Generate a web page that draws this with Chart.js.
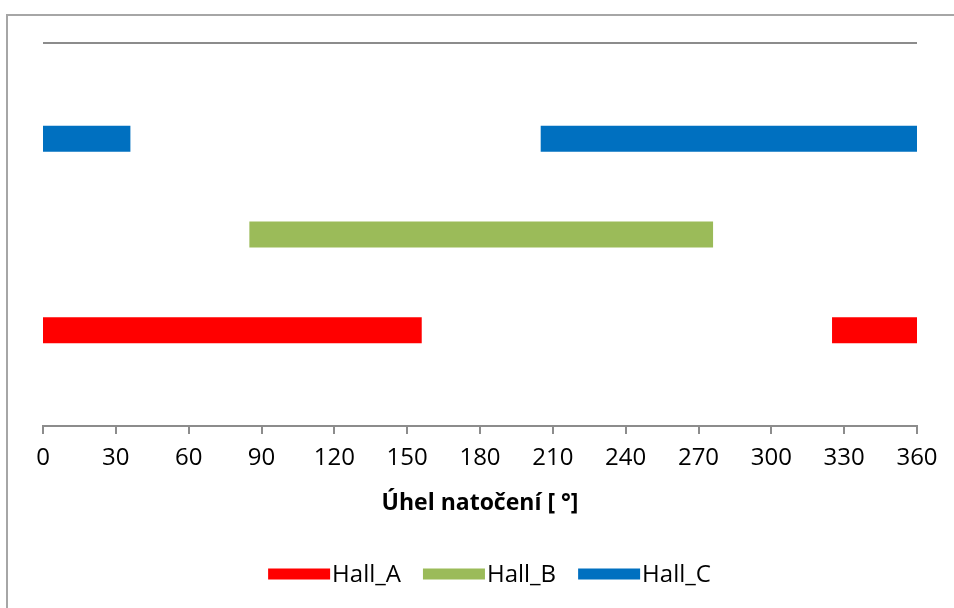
<!DOCTYPE html>
<html>
<head>
<meta charset="utf-8">
<script src="https://cdn.jsdelivr.net/npm/chart.js@4/dist/chart.umd.min.js"></script>
<style>
html,body{margin:0;padding:0;background:#fff;}
#wrap{position:absolute;left:0;top:0;width:954px;height:608px;}
</style>
</head>
<body>
<div id="wrap"><canvas id="c" width="954" height="608"></canvas></div>
<script>
// Data (angles in degrees, where each Hall signal is active)
const seriesNames = ["Hall_A", "Hall_B", "Hall_C"];
const seriesLevels = [1, 2, 3];
const hallA = [[0, 156], [325, 360]];
const hallB = [[85, 276]];
const hallC = [[0, 36], [205, 360]];
const xTicksMin = 0, xTicksMax = 360, xTickStep = 30;
const xTitle = "Úhel natočení [ °]";
const colors = ["#FF0000", "#9BBB59", "#0070C0"];

const FONT = "'Open Sans', 'Noto Sans', sans-serif";

function toPoints(segs, level) {
  const pts = [];
  segs.forEach(s => { pts.push({x: s[0], y: level}); pts.push({x: s[1], y: level}); });
  return pts;
}
const segsAll = [hallA, hallB, hallC];
const datasets = segsAll.map((segs, i) => ({
  label: seriesNames[i],
  data: toPoints(segs, seriesLevels[i]),
  borderColor: colors[i],
  backgroundColor: colors[i],
  borderWidth: 26,
  borderCapStyle: 'butt',
  pointRadius: 0,
  pointHoverRadius: 0,
  fill: false,
  tension: 0,
  segment: {
    borderColor: ctx => (ctx.p0DataIndex % 2 === 1) ? 'rgba(0,0,0,0)' : undefined
  }
}));

const framePlugin = {
  id: 'frame',
  beforeDraw(chart) {
    const ctx = chart.ctx;
    ctx.save();
    ctx.fillStyle = '#fff';
    ctx.fillRect(0, 0, chart.width, chart.height);
    ctx.strokeStyle = '#a6a6a6';
    ctx.lineWidth = 2;
    ctx.beginPath();
    ctx.moveTo(7, chart.height + 5);
    ctx.lineTo(7, 15);
    ctx.lineTo(chart.width + 5, 15);
    ctx.stroke();
    ctx.restore();
  }
};

const legendPlugin = {
  id: 'customLegend',
  afterDraw(chart) {
    const ctx = chart.ctx;
    ctx.save();
    ctx.font = "24px " + FONT;
    ctx.textBaseline = 'middle';
    const boxW = 62, boxH = 11, gapText = 2, gapItem = 22;
    const items = chart.data.datasets.map(d => ({label: d.label, color: d.borderColor, w: boxW + gapText + ctx.measureText(d.label).width}));
    const total = items.reduce((a, it) => a + it.w, 0) + gapItem * (items.length - 1);
    let x = 489.5 - total / 2;
    const cy = 574;
    items.forEach(it => {
      ctx.fillStyle = it.color;
      ctx.fillRect(x, cy - boxH / 2, boxW, boxH);
      ctx.fillStyle = '#000';
      ctx.fillText(it.label, x + boxW + gapText, cy + 1);
      x += it.w + gapItem;
    });
    ctx.restore();
  }
};

new Chart(document.getElementById('c'), {
  type: 'line',
  data: { datasets },
  plugins: [framePlugin, legendPlugin],
  options: {
    responsive: false,
    animation: false,
    devicePixelRatio: 1,
    layout: { padding: { left: 43, right: 37, top: 43, bottom: 91 } },
    plugins: { legend: { display: false }, tooltip: { enabled: false } },
    scales: {
      x: {
        type: 'linear',
        min: xTicksMin,
        max: xTicksMax,
        ticks: { stepSize: xTickStep, color: '#000', font: { family: FONT, size: 24 }, padding: 10, maxRotation: 0, autoSkip: false },
        grid: { drawOnChartArea: false, drawTicks: true, tickLength: 8, color: '#8c8c8c', lineWidth: 2 },
        border: { display: true, color: '#8c8c8c', width: 2 },
        title: { display: true, text: xTitle, color: '#000', font: { family: FONT, size: 23, weight: 'bold' }, padding: { top: 0, bottom: 0 } },
        afterFit(scale) { scale.height = 91; }
      },
      y: {
        type: 'linear',
        min: 0,
        max: 4,
        ticks: { display: false, stepSize: 1 },
        grid: { drawTicks: false, color: ctx => ctx.tick && ctx.tick.value === 4 ? '#8c8c8c' : 'rgba(0,0,0,0)', lineWidth: 2 },
        border: { display: false },
        afterFit(scale) { scale.width = 0; }
      }
    }
  }
});
</script>
</body>
</html>
